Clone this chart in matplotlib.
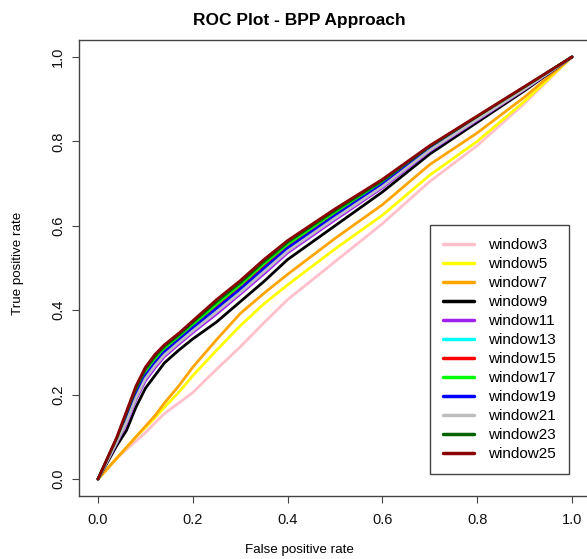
import matplotlib
matplotlib.use("Agg")
import matplotlib.pyplot as plt

# ----------------- data -----------------
FPR = [0.0, 0.02, 0.04, 0.06, 0.08, 0.10, 0.12, 0.14, 0.17, 0.20,
       0.25, 0.30, 0.35, 0.40, 0.50, 0.60, 0.70, 0.80, 0.90, 1.0]

TPR_W3 = [0, .025, .05, .07, .09, .11, .133, .155, .18, .205, .26, .313, .37, .425, .515, .605, .705, .79, .89, 1]
TPR_W5 = [0, .025, .05, .075, .10, .122, .145, .17, .205, .245, .305, .363, .415, .46, .545, .625, .72, .80, .895, 1]
TPR_W7 = [0, .025, .05, .075, .10, .125, .15, .18, .22, .265, .33, .392, .44, .485, .57, .65, .745, .82, .905, 1]
TPR_W9 = [0, .04, .08, .115, .17, .215, .245, .275, .305, .332, .372, .42, .468, .52, .60, .68, .77, .845, .92, 1]
TPR_W11 = [0, .043, .087, .131, .188, .233, .263, .29, .319, .347, .391, .438, .486, .536, .614, .69, .777, .85, .923, 1]
TPR_W13 = [0, .045, .091, .14, .198, .243, .273, .299, .327, .356, .401, .448, .497, .545, .622, .697, .781, .853, .926, 1]
TPR_W15 = [0, .047, .094, .147, .205, .25, .28, .305, .333, .362, .409, .455, .504, .552, .628, .701, .784, .856, .927, 1]
TPR_W17 = [0, .048, .096, .151, .21, .255, .285, .309, .337, .366, .414, .46, .51, .556, .632, .704, .786, .857, .928, 1]
TPR_W19 = [0, .046, .092, .142, .20, .245, .275, .301, .329, .358, .404, .45, .499, .547, .624, .698, .782, .854, .926, 1]
TPR_W21 = [0, .044, .089, .135, .192, .238, .268, .294, .323, .351, .396, .442, .491, .54, .618, .693, .779, .852, .924, 1]
TPR_W23 = [0, .049, .098, .156, .215, .26, .29, .314, .341, .371, .42, .465, .515, .561, .636, .707, .788, .859, .929, 1]
TPR_W25 = [0, .05, .10, .16, .22, .265, .295, .318, .345, .375, .425, .47, .52, .565, .64, .71, .79, .86, .93, 1]

LABELS = ["window3", "window5", "window7", "window9", "window11", "window13",
          "window15", "window17", "window19", "window21", "window23", "window25"]
SERIES = [TPR_W3, TPR_W5, TPR_W7, TPR_W9, TPR_W11, TPR_W13,
          TPR_W15, TPR_W17, TPR_W19, TPR_W21, TPR_W23, TPR_W25]
COLORS = ["#FFC0CB", "#FFFF00", "#FFA500", "#000000", "#A020F0", "#00FFFF",
          "#FF0000", "#00FF00", "#0000FF", "#BEBEBE", "#006400", "#8B0000"]

# ----------------- plot -----------------
plt.rcParams["font.family"] = ["Liberation Sans", "DejaVu Sans"]

W, H = 587, 559
fig = plt.figure(figsize=(W / 100, H / 100), dpi=100)
ax = fig.add_axes([79 / W, 63 / H, 512 / W, 456 / H])

for y, lab, col in zip(SERIES, LABELS, COLORS):
    ax.plot(FPR, y, color=col, linewidth=2, label=lab,
            solid_capstyle="round", solid_joinstyle="round")

ax.set_xlim(-0.04, 1.04)
ax.set_ylim(-0.04, 1.04)
ticks = [0.0, 0.2, 0.4, 0.6, 0.8, 1.0]
ax.set_xticks(ticks)
ax.set_yticks(ticks)
ax.set_xticklabels([f"{t:.1f}" for t in ticks])
ax.set_yticklabels([f"{t:.1f}" for t in ticks])
ax.tick_params(direction="out", length=5, width=0.8, color="#444444",
               labelsize=10.5, labelcolor="#111111")
ax.tick_params(axis="x", pad=7)
ax.tick_params(axis="y", pad=5)
plt.setp(ax.get_yticklabels(), rotation=90, va="center")
for sp in ax.spines.values():
    sp.set_color("#444444")
    sp.set_linewidth(1)

fig.text(299 / W, 1 - 20 / H, "ROC Plot - BPP Approach", ha="center", va="center",
         fontsize=12.5, fontweight="bold")
fig.text(299 / W, 1 - 550 / H, "False positive rate", ha="center", va="center",
         fontsize=9.6)
fig.text(18 / W, 1 - 263 / H, "True positive rate", ha="center", va="center",
         fontsize=9.6, rotation=90)

leg = ax.legend(loc="upper left", bbox_to_anchor=(430 / W, 1 - 225 / H),
                bbox_transform=fig.transFigure, borderaxespad=0,
                fontsize=11, handlelength=2.0, handletextpad=0.98,
                labelspacing=0.33, borderpad=0.85, fancybox=False,
                framealpha=1, edgecolor="#444444")
leg.get_frame().set_linewidth(1)
for line in leg.get_lines():
    line.set_linewidth(2.5)

fig.savefig("out.png", dpi=100)
